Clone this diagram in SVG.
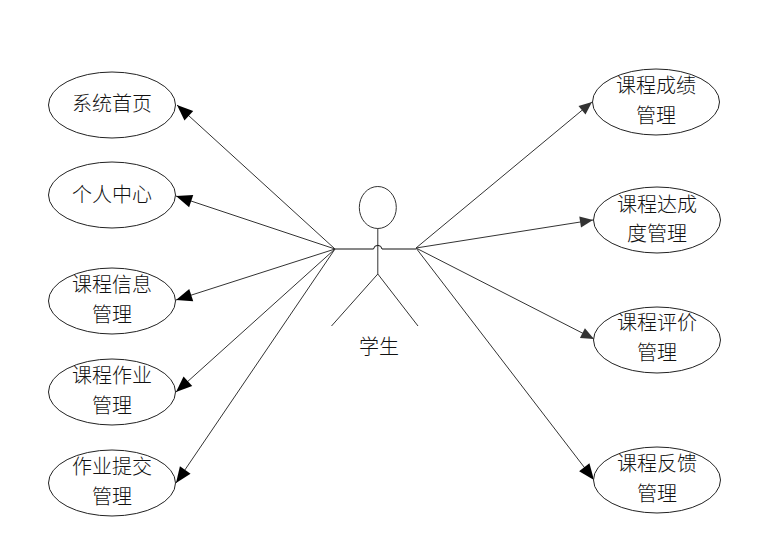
<svg xmlns="http://www.w3.org/2000/svg" width="758" height="536" viewBox="0 0 758 536">
<style>
.n ellipse{fill:#fff;stroke:#222;stroke-width:1}
text{font-family:"Noto Sans CJK SC",sans-serif;font-size:20px;font-weight:300;fill:#111;text-anchor:middle}
.c line{stroke:#333;stroke-width:1}
.a polygon,.a use{fill:#000}
.b use{fill:#333}
.s{fill:none;stroke:#333;stroke-width:1}
</style>
<defs>
<polygon id="h" points="0,0 -16,-6.500 -16,6.500"/>
<polygon id="k" points="0,0 -13,-5.500 -13,5.500"/>
</defs>
<rect width="758" height="536" fill="#fff"/>
<g id="connectors" class="c">
<line x1="335" y1="249" x2="177" y2="105"/>
<line x1="335" y1="249" x2="176" y2="196"/>
<line x1="335" y1="249" x2="176" y2="300"/>
<line x1="335" y1="249" x2="176" y2="392"/>
<line x1="335" y1="249" x2="176" y2="483"/>
<line x1="416" y1="248" x2="592" y2="102"/>
<line x1="416" y1="248" x2="593" y2="220"/>
<line x1="416" y1="248" x2="594" y2="339"/>
<line x1="416" y1="248" x2="594" y2="480"/>
<g class="a">
<use href="#h" transform="translate(177 105) rotate(222.300)"/>
<use href="#h" transform="translate(176 196) rotate(198.400)"/>
<use href="#h" transform="translate(176 300) rotate(162.200)"/>
<use href="#h" transform="translate(176 392) rotate(138)"/>
<use href="#h" transform="translate(176 483) rotate(125.300)"/>
<use href="#h" transform="translate(594 480) rotate(52.500)"/>
</g>
<g class="b">
<use href="#k" transform="translate(592 102) rotate(-39.700)"/>
<use href="#k" transform="translate(593 220) rotate(-9)"/>
<use href="#k" transform="translate(594 339) rotate(27)"/>
</g>
</g>
<g id="actor">
<ellipse class="s" cx="377.800" cy="207.500" rx="18.500" ry="21"/>
<path class="s" d="M377.800 228.500V274M377.800 274L331.500 326M377.800 274L418 326"/>
<path d="M335 249H373.500A4.300 4.300 0 0 1 382 249H416" fill="none" stroke="#111" stroke-width="1"/>
<text x="379" y="354">学生</text>
</g>
<g id="n1" class="n"><ellipse cx="112" cy="105" rx="63.500" ry="33"/><text x="112" y="111">系统首页</text></g>
<g id="n2" class="n"><ellipse cx="112" cy="195" rx="63.500" ry="33"/><text x="112" y="202">个人中心</text></g>
<g id="n3" class="n"><ellipse cx="112" cy="301" rx="63.500" ry="33"/><text x="112" y="292">课程信息</text><text x="112" y="322">管理</text></g>
<g id="n4" class="n"><ellipse cx="112" cy="392" rx="63.500" ry="33"/><text x="112" y="383">课程作业</text><text x="112" y="413">管理</text></g>
<g id="n5" class="n"><ellipse cx="112" cy="483" rx="63.500" ry="33"/><text x="112" y="474">作业提交</text><text x="112" y="504">管理</text></g>
<g id="n6" class="n"><ellipse cx="656" cy="102" rx="63.500" ry="33"/><text x="656" y="93">课程成绩</text><text x="656" y="123">管理</text></g>
<g id="n7" class="n"><ellipse cx="657" cy="220" rx="63.500" ry="33"/><text x="657" y="212">课程达成</text><text x="657" y="241">度管理</text></g>
<g id="n8" class="n"><ellipse cx="657" cy="340" rx="63.500" ry="33"/><text x="657" y="330">课程评价</text><text x="657" y="360">管理</text></g>
<g id="n9" class="n"><ellipse cx="657" cy="480" rx="63.500" ry="33"/><text x="657" y="471">课程反馈</text><text x="657" y="501">管理</text></g>
</svg>
